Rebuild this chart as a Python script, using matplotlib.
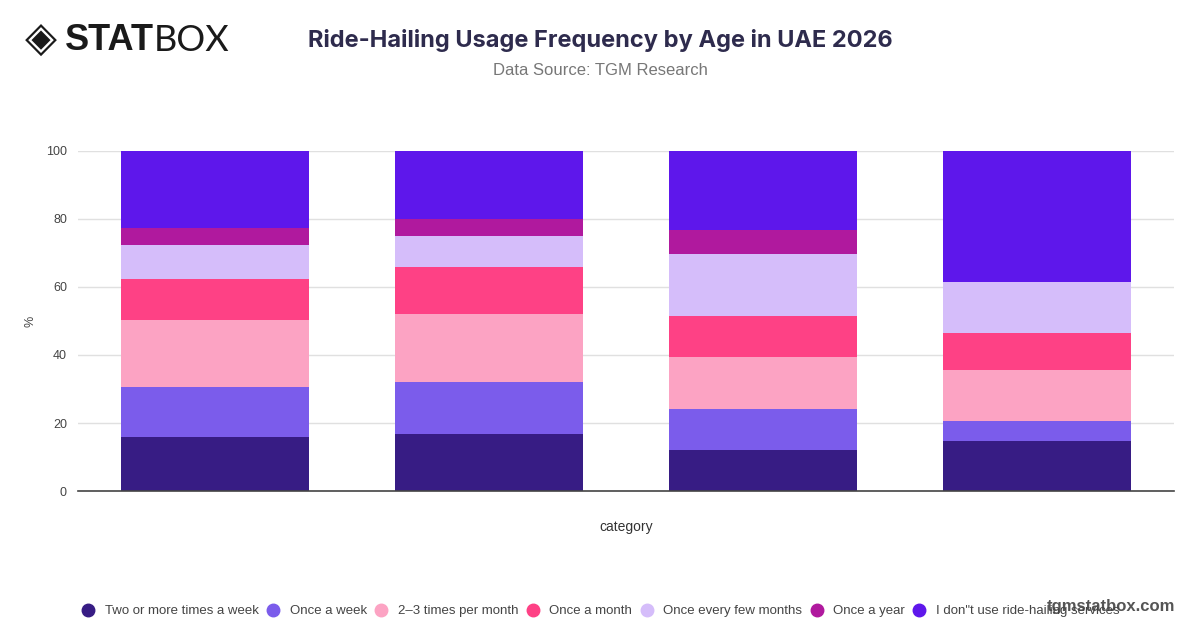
import matplotlib.pyplot as plt
from matplotlib.lines import Line2D
import numpy as np

# age groups (not shown as tick labels in the reference)
categories = ['18-24', '25-34', '35-44', '45+']
series_names = ['Two or more times a week', 'Once a week', '2\u20133 times per month',
                'Once a month', 'Once every few months', 'Once a year',
                'I don"t use ride-hailing services']
two_plus_week = [15.8, 16.9, 12.0, 14.8]
once_week = [14.9, 15.1, 12.2, 5.9]
two_three_month = [19.7, 20.0, 15.2, 14.9]
once_month = [11.9, 13.9, 12.0, 10.9]
few_months = [9.9, 9.1, 18.3, 14.8]
once_year = [5.1, 5.0, 7.0, 0.0]
no_use = [22.7, 20.0, 23.3, 38.7]
series_values = [two_plus_week, once_week, two_three_month, once_month,
                 few_months, once_year, no_use]
colors = ['#371c84', '#7b5ceb', '#fca3c3', '#fe4185', '#d5bdfa', '#b0199e', '#5e17eb']

plt.rcParams['font.family'] = ['Liberation Sans', 'DejaVu Sans']

fig = plt.figure(figsize=(12, 6.28), dpi=100)
ax = fig.add_axes([0.065, 0.218, 0.913, 0.542])

x = np.arange(len(categories))
bottom = np.zeros(len(categories))
for name, vals, col in zip(series_names, series_values, colors):
    ax.bar(x, vals, bottom=bottom, width=0.686, color=col, label=name, zorder=2)
    bottom += np.array(vals)

ax.set_xlim(-0.5, len(categories) - 0.5)
ax.set_ylim(0, 100)
ax.set_yticks([0, 20, 40, 60, 80, 100])
ax.set_xticks([])
ax.grid(axis='y', color='#e0e0e0', linewidth=1, zorder=0)
for s in ['top', 'right', 'left']:
    ax.spines[s].set_visible(False)
ax.spines['bottom'].set_color('#444444')
ax.spines['bottom'].set_linewidth(1.2)
ax.tick_params(axis='y', length=0, labelsize=9, labelcolor='#444444', pad=8)
ax.set_ylabel('%', fontsize=9, color='#444444', labelpad=7)
ax.set_xlabel('category', fontsize=10, color='#333333', labelpad=21)

fig.text(0.5, 0.936, 'Ride-Hailing Usage Frequency by Age in UAE 2026', ha='center',
         va='center', fontsize=17, fontweight='bold', color='#2e2b4d',
         family=['Inter', 'DejaVu Sans'])
fig.text(0.5, 0.888, 'Data Source: TGM Research', ha='center', va='center',
         fontsize=12, color='#777777')

# logo
fig.text(0.021, 0.936, '\u25c8', ha='left', va='center', fontsize=30, color='#1a1a1a',
         family=['DejaVu Sans'])
fig.text(0.054, 0.936, 'STAT', ha='left', va='center', fontsize=26, fontweight='heavy',
         color='#1a1a1a', family=['Liberation Sans'])
fig.text(0.128, 0.936, 'BOX', ha='left', va='center', fontsize=26, fontweight='normal',
         color='#1a1a1a', family=['Lato', 'DejaVu Sans'])

handles = [Line2D([0], [0], marker='o', linestyle='', markersize=9,
                  markerfacecolor=c, markeredgecolor=c) for c in colors]
fig.legend(handles, series_names, loc='center', bbox_to_anchor=(0.5, 0.027),
           ncol=7, frameon=False, fontsize=9.5, handletextpad=0.65,
           columnspacing=0.5, labelcolor='#444444', handlelength=1.2)

fig.text(0.979, 0.035, 'tgmstatbox.com', ha='right', va='center', fontsize=12,
         fontweight='bold', color='#555555')

fig.savefig('out.png', dpi=100)
